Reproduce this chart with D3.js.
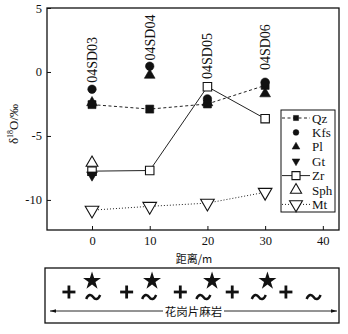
<!DOCTYPE html>
<html><head><meta charset="utf-8">
<script src="https://cdn.jsdelivr.net/npm/d3@7"></script>
<style>body{margin:0;background:#fff}svg{display:block}</style>
</head><body>
<svg id="c" width="348" height="334"></svg>
<script>
const distance = [0, 10, 20, 30];
const samples = ["04SD03", "04SD04", "04SD05", "04SD06"];
const qz  = [-2.55, -2.9, -2.5, -1.05];
const kfs = [-1.35, 0.45, -2.1, -0.8];
const pl  = [-2.4, -0.25, -2.4, -1.7];
const gt  = [-8.05, null, null, null];
const zr  = [-7.75, -7.7, -1.15, -3.65];
const sph = [-7.1, null, null, null];
const mt  = [-10.8, -10.5, -10.25, -9.4];
const xTicks = [0, 10, 20, 30, 40];
const yTicks = [5, 0, -5, -10];
const legendNames = ["Qz", "Kfs", "Pl", "Gt", "Zr", "Sph", "Mt"];
const plusPos = [-4, 6, 15.3, 24.3, 33.6];
const starPos = [0, 10.4, 20.8, 30.4];
const tildePos = [0.2, 9.9, 19.3, 28.9, 38.4];

const svg = d3.select("#c");
const serif = "'Liberation Serif','Times New Roman',serif";
const cjk = "'Noto Sans CJK SC',sans-serif";
const L = 47, R = 339, T = 8, B = 230;
const x = d3.scaleLinear().domain([-7.8, 42.8]).range([L, R]);
const y = d3.scaleLinear().domain([-12.35, 5]).range([B, T]);

// frame
svg.append("rect").attr("x", L).attr("y", T).attr("width", R - L).attr("height", B - T)
  .attr("fill", "none").attr("stroke", "#111").attr("stroke-width", 1.3);

// axes (inner ticks)
const gx = svg.append("g").attr("transform", `translate(0,${B})`)
  .call(d3.axisBottom(x).tickValues(xTicks).tickSizeInner(-4).tickSizeOuter(0).tickPadding(6));
const gy = svg.append("g").attr("transform", `translate(${L},0)`)
  .call(d3.axisLeft(y).tickValues(yTicks).tickSizeInner(-4).tickSizeOuter(0).tickPadding(5)
    .tickFormat(d => String(d)));
[gx, gy].forEach(g => {
  g.select(".domain").remove();
  g.selectAll("line").attr("stroke", "#111");
  g.selectAll("text").attr("font-family", serif).attr("font-size", 12.5).attr("fill", "#111");
});

// y label
const yl = svg.append("text").attr("transform", "translate(18,124) rotate(-90)")
  .attr("text-anchor", "middle").attr("font-family", serif).attr("font-size", 13).attr("fill", "#111");
yl.append("tspan").text("δ");
yl.append("tspan").attr("font-size", 8).attr("dy", -5).text("18");
yl.append("tspan").attr("dy", 5).text("O/‰");

// x label
svg.append("text").attr("x", 194).attr("y", 263).attr("text-anchor", "middle")
  .attr("font-family", cjk).attr("font-size", 11).attr("fill", "#111").text("距离/m");

// series definitions
const series = [
  {name: "Qz", vals: qz, sym: d3.symbolSquare, size: 64, fill: "#111", line: "3,2.5"},
  {name: "Kfs", vals: kfs, sym: d3.symbolCircle, size: 56, fill: "#111"},
  {name: "Pl", vals: pl, sym: d3.symbolTriangle, size: 50, fill: "#111"},
  {name: "Gt", vals: gt, sym: d3.symbolTriangle, size: 50, fill: "#111", rot: 180},
  {name: "Zr", vals: zr, sym: d3.symbolSquare, size: 72, fill: "#fff", line: "none"},
  {name: "Sph", vals: sph, sym: d3.symbolTriangle, size: 60, fill: "#fff"},
  {name: "Mt", vals: mt, sym: d3.symbolTriangle, size: 80, fill: "#fff", rot: 180, line: "1,2"}
];

const lineGen = d3.line().defined(d => d[1] != null).x(d => x(d[0])).y(d => y(d[1]));
series.forEach(s => {
  if (s.line) {
    svg.append("path").datum(distance.map((d, i) => [d, s.vals[i]]))
      .attr("d", lineGen).attr("fill", "none").attr("stroke", "#222").attr("stroke-width", 1)
      .attr("stroke-dasharray", s.line === "none" ? null : s.line);
  }
});
const drawOrder = [4, 6, 5, 3, 0, 2, 1];
drawOrder.forEach(k => {
  const s = series[k];
  svg.append("g").selectAll("path").data(distance.map((d, i) => [d, s.vals[i]]).filter(d => d[1] != null))
    .join("path")
    .attr("d", d3.symbol().type(s.sym).size(s.size))
    .attr("transform", d => `translate(${x(d[0])},${y(d[1])}) rotate(${s.rot || 0})`)
    .attr("fill", s.fill).attr("stroke", "#111").attr("stroke-width", s.fill === "#fff" ? 1.1 : 0.6);
});

// sample labels
const labelBottom = [-0.85, 0.9, -0.55, 0.15];
svg.append("g").selectAll("text").data(samples).join("text")
  .attr("transform", (d, i) => `translate(${x(distance[i]) + 5},${y(labelBottom[i])}) rotate(-90)`)
  .attr("font-family", serif).attr("font-size", 14).attr("fill", "#111").text(d => d);

// legend
const lg = svg.append("g");
const lx = 281, ly = 110, lw = 54, lh = 102, rowH = 14.4;
lg.append("rect").attr("x", lx).attr("y", ly).attr("width", lw).attr("height", lh)
  .attr("fill", "#fff").attr("stroke", "#111").attr("stroke-width", 1);
series.forEach((s, i) => {
  const cy = ly + 8 + i * rowH, cx = lx + 15;
  if (s.line) {
    lg.append("line").attr("x1", lx + 1).attr("x2", lx + 29).attr("y1", cy).attr("y2", cy)
      .attr("stroke", "#222").attr("stroke-width", 1)
      .attr("stroke-dasharray", s.line === "none" ? null : s.line);
  }
  const small = s.fill === "#111";
  lg.append("path").attr("d", d3.symbol().type(s.sym).size(small ? 26 : s.size * 0.9))
    .attr("transform", `translate(${cx},${cy}) rotate(${s.rot || 0})`)
    .attr("fill", s.fill).attr("stroke", "#111").attr("stroke-width", small ? 0.5 : 1.1);
  lg.append("text").attr("x", lx + 31).attr("y", cy + 4.5).attr("font-family", serif)
    .attr("font-size", 13).attr("fill", "#111").text(legendNames[i]);
});

// bottom lithology box
const bx = 45, by = 268, bw = 294, bh = 55;
svg.append("rect").attr("x", bx).attr("y", by).attr("width", bw).attr("height", bh)
  .attr("fill", "none").attr("stroke", "#111").attr("stroke-width", 1.3);
svg.append("g").selectAll("g").data(plusPos).join("g")
  .attr("transform", d => `translate(${x(d)},292)`)
  .each(function () {
    const g = d3.select(this);
    g.append("line").attr("x1", -6.5).attr("x2", 6.5).attr("stroke", "#111").attr("stroke-width", 2.8);
    g.append("line").attr("y1", -6.5).attr("y2", 6.5).attr("stroke", "#111").attr("stroke-width", 2.8);
  });
svg.append("g").selectAll("path").data(starPos).join("path")
  .attr("d", d3.symbol().type(d3.symbolStar).size(100))
  .attr("transform", d => `translate(${x(d)},281)`).attr("fill", "#111");
svg.append("g").selectAll("path").data(tildePos).join("path")
  .attr("d", "M-7,2 C-5,-3 -2,-3 0,0 C2,3 5,3 7,-2")
  .attr("transform", d => `translate(${x(d)},297)`)
  .attr("fill", "none").attr("stroke", "#111").attr("stroke-width", 2.4);

// arrow with label
const ay = 311;
const defs = svg.append("defs");
defs.append("marker").attr("id", "ah").attr("viewBox", "0 0 10 6").attr("refX", 10).attr("refY", 3)
  .attr("markerWidth", 7).attr("markerHeight", 4).attr("orient", "auto-start-reverse")
  .append("path").attr("d", "M0,0 L10,3 L0,6 Z").attr("fill", "#111");
svg.append("line").attr("x1", 50).attr("x2", 163).attr("y1", ay).attr("y2", ay)
  .attr("stroke", "#111").attr("stroke-width", 0.9).attr("marker-start", "url(#ah)");
svg.append("line").attr("x1", 224).attr("x2", 337).attr("y1", ay).attr("y2", ay)
  .attr("stroke", "#111").attr("stroke-width", 0.9).attr("marker-end", "url(#ah)");
svg.append("text").attr("x", 193.5).attr("y", ay + 4.5).attr("text-anchor", "middle")
  .attr("font-family", cjk).attr("font-size", 11.5).attr("fill", "#111").text("花岗片麻岩");
</script>
</body></html>
